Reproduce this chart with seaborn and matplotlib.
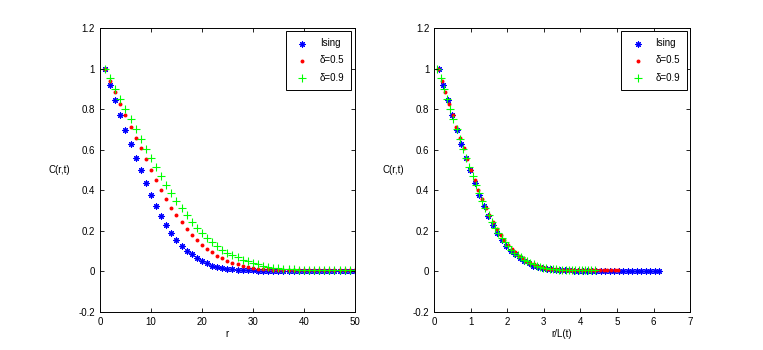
import numpy as np
import pandas as pd
import matplotlib
matplotlib.use("Agg")
import matplotlib.pyplot as plt
import seaborn as sns
from matplotlib.ticker import FuncFormatter

# distance r (lattice units)
r = np.arange(1, 51)

ising = [1.0, 0.918, 0.846, 0.771, 0.697, 0.627, 0.561, 0.498, 0.435, 0.378,
         0.322, 0.273, 0.229, 0.191, 0.155, 0.126, 0.101, 0.083, 0.065, 0.051,
         0.039, 0.028, 0.021, 0.015, 0.011, 0.009, 0.007, 0.006, 0.004, 0.004,
         0.003, 0.003, 0.003, 0.002, 0.002, 0.002, 0.002, 0.002, 0.001, 0.001,
         0.001, 0.001, 0.001, 0.001, 0.001, 0.001, 0.001, 0.001, 0.001, 0.001]
delta05 = [1.0, 0.938, 0.882, 0.823, 0.771, 0.714, 0.658, 0.606, 0.553, 0.499,
           0.450, 0.401, 0.355, 0.313, 0.278, 0.241, 0.208, 0.180, 0.152, 0.129,
           0.110, 0.093, 0.077, 0.064, 0.052, 0.043, 0.034, 0.028, 0.021, 0.016,
           0.013, 0.011, 0.009, 0.008, 0.007, 0.007, 0.006, 0.006, 0.006, 0.006,
           0.005, 0.005, 0.005, 0.005, 0.005, 0.005, 0.005, 0.005, 0.005, 0.005]
delta09 = [1.0, 0.951, 0.897, 0.848, 0.799, 0.750, 0.700, 0.651, 0.602, 0.560,
           0.512, 0.468, 0.426, 0.385, 0.347, 0.311, 0.278, 0.242, 0.214, 0.188,
           0.164, 0.144, 0.124, 0.105, 0.092, 0.079, 0.069, 0.057, 0.049, 0.041,
           0.034, 0.028, 0.023, 0.018, 0.015, 0.013, 0.011, 0.009, 0.008, 0.007,
           0.007, 0.006, 0.006, 0.006, 0.005, 0.005, 0.005, 0.005, 0.005, 0.005]

# domain size L(t) for each model
L_ising = 8.12
L_d05 = 9.92
L_d09 = 11.4

labels = ["Ising", "\u03b4=0.5", "\u03b4=0.9"]
series = [ising, delta05, delta09]
lengths = [L_ising, L_d05, L_d09]
colors = ["#0000ff", "#ff0000", "#00ff00"]
markers = [(8, 2, 0), "o", "+"]
sizes = [16, 8, 40]

plt.rcParams['font.family'] = ['Liberation Sans', 'DejaVu Sans']

fig = plt.figure(figsize=(7.63, 3.5), dpi=100)
ax1 = fig.add_axes([0.131, 0.109, 0.334, 0.811])
ax2 = fig.add_axes([0.569, 0.109, 0.3355, 0.811])

fmt = FuncFormatter(lambda v, p: "%g" % round(v, 2))

for ax, scaled in [(ax1, False), (ax2, True)]:
    for lab, ys, L, c, m, s in zip(labels, series, lengths, colors, markers, sizes):
        x = r / L if scaled else r
        df = pd.DataFrame({"x": x, "C": ys})
        if m == "o":
            sns.scatterplot(data=df, x="x", y="C", ax=ax, marker=m, color=c,
                            s=s, linewidth=0, label=lab)
        else:
            sns.scatterplot(data=df, x="x", y="C", ax=ax, marker=m, color=c,
                            edgecolor=c, s=s, linewidth=0.8, label=lab)
    ax.set_ylim(-0.2, 1.2)
    ax.set_yticks(np.arange(-0.2, 1.21, 0.2))
    ax.yaxis.set_major_formatter(fmt)
    ax.tick_params(direction="in", top=True, right=True, labelsize=7, length=3,
                   width=0.6)
    for sp in ax.spines.values():
        sp.set_linewidth(0.7)
    ax.set_ylabel("C(r,t)", rotation=0, fontsize=7, labelpad=14, va="center")
    leg = ax.legend(loc="upper right", fontsize=7, fancybox=False,
                    edgecolor="black", framealpha=1, borderaxespad=0.35,
                    handletextpad=0.8, labelspacing=0.75, borderpad=0.7)
    leg.get_frame().set_linewidth(0.7)

ax1.set_xlim(0, 50)
ax1.set_xticks(range(0, 51, 10))
ax1.set_xlabel("r", fontsize=7, labelpad=2)
ax2.set_xlim(0, 7)
ax2.set_xticks(range(0, 8))
ax2.set_xlabel("r/L(t)", fontsize=7, labelpad=2)

fig.savefig("out.png", dpi=100)
